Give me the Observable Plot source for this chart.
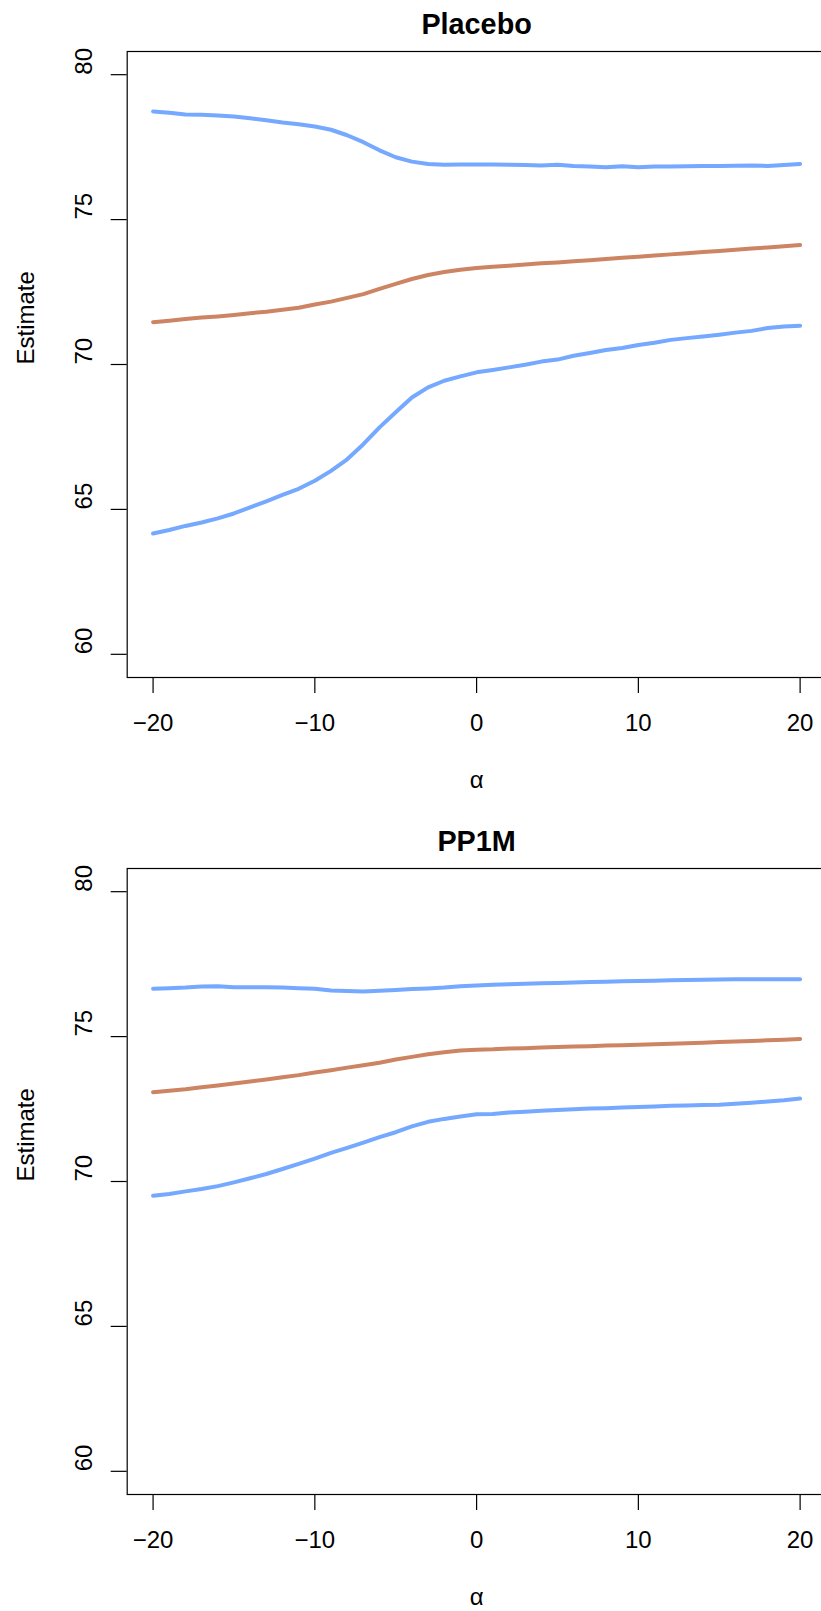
<!DOCTYPE html>
<html>
<head>
<meta charset="utf-8">
<script src="https://cdn.jsdelivr.net/npm/d3@7"></script>
<script src="https://cdn.jsdelivr.net/npm/@observablehq/plot@0.6"></script>
<style>
  html, body { margin: 0; padding: 0; background: #fff; overflow: hidden; }
  #chart svg { display: block; }
</style>
</head>
<body>
<div id="chart"></div>
<script>
// ---- data ----
const alpha = [-20,-19,-18,-17,-16,-15,-14,-13,-12,-11,-10,-9,-8,-7,-6,-5,-4,-3,-2,-1,0,
               1,2,3,4,5,6,7,8,9,10,11,12,13,14,15,16,17,18,19,20];

const panelTitles = ["Placebo", "PP1M"];

const placeboUpper = [78.73,78.69,78.63,78.62,78.59,78.56,78.50,78.43,78.35,78.29,78.21,78.10,77.91,77.67,77.39,77.15,77.00,76.92,76.89,76.90,76.90,
                      76.90,76.89,76.88,76.87,76.89,76.85,76.83,76.81,76.84,76.81,76.83,76.83,76.84,76.85,76.85,76.86,76.87,76.85,76.88,76.92];
const placeboEst   = [71.46,71.51,71.57,71.62,71.66,71.71,71.77,71.82,71.89,71.96,72.07,72.17,72.30,72.43,72.61,72.78,72.95,73.09,73.19,73.27,73.33,
                      73.37,73.41,73.45,73.49,73.52,73.56,73.60,73.64,73.68,73.72,73.76,73.80,73.84,73.88,73.92,73.96,74.00,74.04,74.08,74.12];
const placeboLower = [64.17,64.29,64.43,64.55,64.69,64.86,65.07,65.28,65.50,65.71,65.99,66.33,66.73,67.25,67.83,68.35,68.86,69.21,69.44,69.59,69.73,
                      69.81,69.90,69.99,70.10,70.17,70.30,70.40,70.50,70.57,70.67,70.75,70.85,70.91,70.97,71.03,71.10,71.16,71.26,71.31,71.34];

const pp1mUpper = [76.65,76.67,76.69,76.73,76.74,76.70,76.70,76.70,76.69,76.67,76.65,76.59,76.57,76.56,76.58,76.61,76.64,76.66,76.69,76.74,76.76,
                   76.79,76.81,76.82,76.84,76.85,76.87,76.88,76.89,76.91,76.92,76.93,76.94,76.95,76.96,76.97,76.98,76.98,76.98,76.98,76.98];
const pp1mEst   = [73.08,73.13,73.18,73.25,73.31,73.38,73.45,73.52,73.60,73.67,73.76,73.84,73.93,74.01,74.10,74.21,74.30,74.39,74.46,74.52,74.55,
                   74.56,74.59,74.60,74.62,74.64,74.66,74.67,74.69,74.70,74.72,74.74,74.75,74.77,74.79,74.81,74.83,74.85,74.87,74.89,74.92];
const pp1mLower = [69.51,69.57,69.66,69.74,69.84,69.97,70.11,70.26,70.43,70.61,70.79,70.99,71.16,71.34,71.53,71.70,71.90,72.06,72.16,72.24,72.32,
                   72.33,72.38,72.41,72.44,72.47,72.49,72.52,72.53,72.55,72.57,72.59,72.61,72.62,72.64,72.65,72.68,72.72,72.76,72.80,72.86];

const xTicks = [-20, -10, 0, 10, 20];
const yTicks = [60, 65, 70, 75, 80];
const xLabel = "α";
const yLabel = "Estimate";

// ---- drawing ----
const blue = "#75A8FF";
const brown = "#CD8462";
const font = "'Liberation Sans', Arial, Helvetica, sans-serif";
const fmt = d => (d < 0 ? "\u2212" + Math.abs(d) : String(d));

function panel(title, upper, est, lower, height) {
  const rows = (vals) => alpha.map((a, i) => ({a, v: vals[i]}));
  const lineOpts = (color) => ({x: "a", y: "v", stroke: color, strokeWidth: 4,
                                strokeLinecap: "round", strokeLinejoin: "round"});
  const txt = {fontSize: 24, fill: "black", fontFamily: font, lineAnchor: "middle"};
  return Plot.plot({
    width: 821,
    height,
    marginTop: 51,
    marginBottom: height - 677,
    marginLeft: 126.7,
    marginRight: -4.5,
    style: {fontFamily: font, overflow: "hidden", background: "white"},
    x: {domain: [-21.6, 21.6]},
    y: {domain: [59.2, 80.8]},
    marks: [
      Plot.frame({stroke: "black", strokeWidth: 1.2}),
      Plot.axisX(xTicks, {tickSize: 16, tickFormat: () => "", label: null, stroke: "black", strokeWidth: 1.2}),
      Plot.axisY(yTicks, {tickSize: 16, tickFormat: () => "", label: null, stroke: "black", strokeWidth: 1.2}),
      Plot.text(xTicks, {x: d => d, frameAnchor: "bottom", dy: 46, text: fmt, ...txt}),
      Plot.text(yTicks, {y: d => d, frameAnchor: "left", dx: -42.5, rotate: -90, text: d => String(d), ...txt}),
      Plot.text([xLabel], {frameAnchor: "bottom", dy: 103, text: d => d, ...txt}),
      Plot.text([yLabel], {frameAnchor: "left", dx: -101, rotate: -90, text: d => d, ...txt}),
      Plot.text([title], {frameAnchor: "top", dy: -27, text: d => d, ...txt,
                          fontSize: 28.8, fontWeight: "bold"}),
      Plot.line(rows(upper), lineOpts(blue)),
      Plot.line(rows(lower), lineOpts(blue)),
      Plot.line(rows(est), lineOpts(brown))
    ]
  });
}

const root = document.getElementById("chart");
root.appendChild(panel(panelTitles[0], placeboUpper, placeboEst, placeboLower, 817));
root.appendChild(panel(panelTitles[1], pp1mUpper, pp1mEst, pp1mLower, 794));
</script>
</body>
</html>
